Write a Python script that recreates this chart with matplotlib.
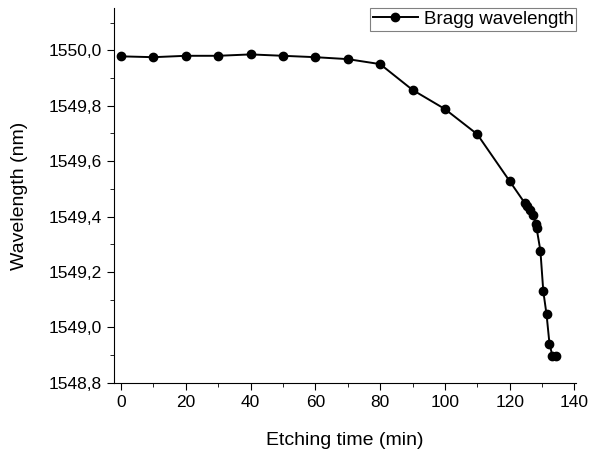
import matplotlib
matplotlib.use("Agg")
import matplotlib.pyplot as plt
from matplotlib import ticker

plt.rcParams['font.family'] = ['Liberation Sans', 'DejaVu Sans']

time_min = [0, 10, 20, 30, 40, 50, 60, 70, 80, 90, 100, 110, 120,
            124.6, 125.5, 126.4, 127.3, 128, 128.3, 129.5, 130.4, 131.4,
            132.3, 133.2, 134.4]
wavelength = [1549.978, 1549.975, 1549.980, 1549.980, 1549.985, 1549.980,
              1549.975, 1549.968, 1549.950, 1549.857, 1549.788, 1549.697,
              1549.528, 1549.450, 1549.437, 1549.425, 1549.407, 1549.374,
              1549.360, 1549.277, 1549.130, 1549.047, 1548.942, 1548.898,
              1548.898]

fig = plt.figure(figsize=(5.89, 4.51), dpi=100)
ax = fig.add_axes([0.1935, 0.151, 0.785, 0.831])

ax.plot(time_min, wavelength, '-o', color='black', lw=1.4, ms=6,
        label='Bragg wavelength')

ax.set_xlim(-2.2, 140.6)
ax.set_ylim(1548.8, 1550.152)
ax.xaxis.set_major_locator(ticker.MultipleLocator(20))
ax.xaxis.set_minor_locator(ticker.MultipleLocator(10))
ax.yaxis.set_major_locator(ticker.MultipleLocator(0.2))
ax.yaxis.set_minor_locator(ticker.MultipleLocator(0.1))
ax.yaxis.set_major_formatter(ticker.FuncFormatter(lambda v, p: ('%.1f' % v).replace('.', ',')))

for s in ['top', 'right']:
    ax.spines[s].set_visible(False)
ax.tick_params(which='major', direction='out', length=5, labelsize=12.5)
ax.tick_params(which='minor', direction='out', length=3)

ax.set_xlabel('Etching time (min)', fontsize=14, labelpad=16)
ax.set_ylabel('Wavelength (nm)', fontsize=14, labelpad=15)

leg = ax.legend(loc='upper right', fontsize=13.5, fancybox=False, framealpha=1,
                edgecolor='gray', borderpad=0.15, handlelength=2.4,
                handletextpad=0.3, borderaxespad=0.0)
leg.get_frame().set_linewidth(0.8)

fig.savefig('out.png', dpi=100)
